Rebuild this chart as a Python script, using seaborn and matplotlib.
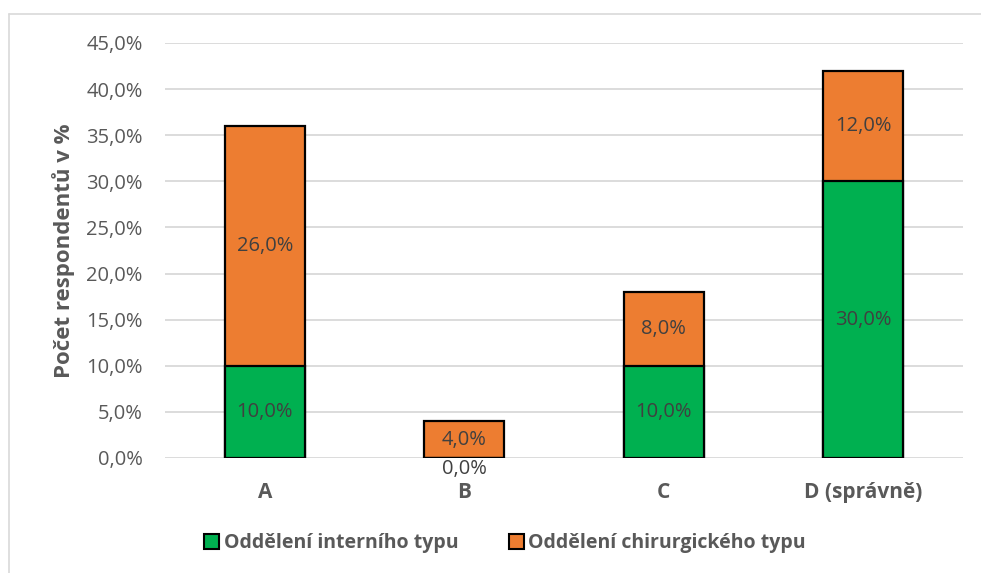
import matplotlib
matplotlib.use("Agg")
import matplotlib.pyplot as plt
import matplotlib.patches as mpatches
import seaborn as sns

categories = ["A", "B", "C", "D (správně)"]
internal = [10.0, 0.0, 10.0, 30.0]
surgical = [26.0, 4.0, 8.0, 12.0]
series_names = ["Oddělení interního typu", "Oddělení chirurgického typu"]
y_ticks = [0, 5, 10, 15, 20, 25, 30, 35, 40, 45]

GREEN = "#00B050"
ORANGE = "#ED7D31"
TEXT = "#595959"
GRID = "#D9D9D9"

sns.set_theme(style="white")
plt.rcParams["font.family"] = ["Open Sans", "DejaVu Sans"]

fig = plt.figure(figsize=(9.81, 5.73), dpi=100)
ax = fig.add_axes([0.1682, 0.2007, 0.8135, 0.7243])

totals = [a + b for a, b in zip(internal, surgical)]

# stacked bars: full height in orange, internal part drawn over it in green
sns.barplot(x=categories, y=totals, color=ORANGE, width=0.4, edgecolor="black",
            linewidth=1.6, saturation=1, ax=ax, zorder=3)
sns.barplot(x=categories, y=internal, color=GREEN, width=0.4, edgecolor="black",
            linewidth=1.6, saturation=1, ax=ax, zorder=4)

def fmt(v):
    return f"{v:.1f}".replace(".", ",") + "%"

LABEL_SIZE = 14.5
for i, (a, b) in enumerate(zip(internal, surgical)):
    if a > 0:
        ax.text(i, a / 2, fmt(a), ha="center", va="center", fontsize=LABEL_SIZE,
                color="#404040", zorder=6)
    else:
        ax.text(i, -0.1, fmt(a), ha="center", va="top", fontsize=LABEL_SIZE,
                color="#404040", zorder=6)
    ax.text(i, a + b / 2, fmt(b), ha="center", va="center", fontsize=LABEL_SIZE,
            color="#404040", zorder=6)

ax.set_ylim(0, 45)
ax.set_xlim(-0.5, 3.5)
ax.set_yticks(y_ticks)
ax.set_yticklabels([fmt(v) for v in y_ticks], fontsize=14.5, color=TEXT)
ax.set_xticks(range(len(categories)))
ax.set_xticklabels(categories, fontsize=15, fontweight="bold", color=TEXT)
ax.tick_params(axis="y", length=0, pad=16)
ax.tick_params(axis="x", length=0, pad=17)
ax.yaxis.grid(True, color=GRID, linewidth=1.3, zorder=0)
ax.set_axisbelow(True)
for s in ax.spines.values():
    s.set_visible(False)

ax.set_ylabel("Počet respondentů v %", fontsize=16, fontweight="bold", color=TEXT,
              labelpad=8)
ax.set_xlabel("")

handles = [mpatches.Patch(facecolor=GREEN, edgecolor="black", linewidth=1.5),
           mpatches.Patch(facecolor=ORANGE, edgecolor="black", linewidth=1.5)]
leg = fig.legend(handles, series_names, loc="center", bbox_to_anchor=(0.515, 0.052),
                 ncol=2, frameon=False, handlelength=0.75, handleheight=0.75,
                 handletextpad=0.25, columnspacing=2.6,
                 prop={"size": 14, "weight": "bold"})
for t in leg.get_texts():
    t.set_color(TEXT)

# outer chart frame (top and left edges)
fig.add_artist(plt.Line2D([0.0092, 1.0], [0.9755, 0.9755], color=GRID,
                          linewidth=1.2, transform=fig.transFigure))
fig.add_artist(plt.Line2D([0.0092, 0.0092], [0.0, 0.9755], color=GRID,
                          linewidth=1.2, transform=fig.transFigure))

fig.savefig("out.png", dpi=100)
